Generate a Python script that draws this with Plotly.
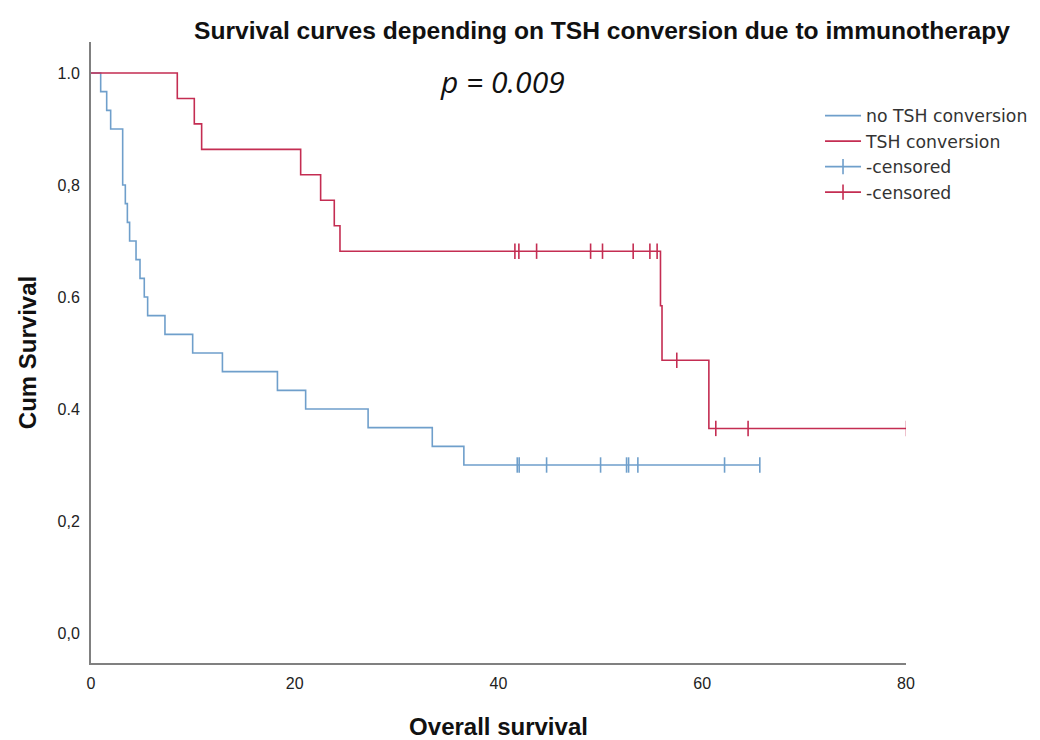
import plotly.graph_objects as go

# ---- data ----
blue_times = [0, 0.95, 1.54, 1.93, 3.11, 3.37, 3.57, 3.79, 4.42, 4.81, 5.23, 5.56, 7.26,
              9.98, 12.9, 18.3, 21.07, 27.2, 33.5, 36.6, 65.65]
blue_surv = [1.0, 0.9667, 0.9333, 0.9, 0.8, 0.7667, 0.7333, 0.7, 0.6667, 0.6333, 0.6,
             0.5667, 0.5333, 0.5, 0.4667, 0.4333, 0.4, 0.3667, 0.3333, 0.3, 0.3]
blue_cens_t = [41.84, 42.03, 44.72, 50.02, 52.57, 52.77, 53.68, 62.19, 65.65]
blue_cens_s = [0.3] * 9

red_times = [0, 8.47, 10.14, 10.86, 20.58, 22.54, 23.88, 24.44, 55.9, 56.05, 60.65, 80.05]
red_surv = [1.0, 0.9545, 0.9091, 0.8636, 0.8182, 0.7727, 0.7273, 0.6818, 0.5844, 0.487,
            0.3653, 0.3653]
red_cens_t = [41.61, 42.0, 43.74, 49.04, 50.21, 53.22, 54.86, 55.57, 57.5, 61.33, 64.5, 80.05]
red_cens_s = [0.6818] * 8 + [0.487] + [0.3653] * 3

y_ticks = [0.0, 0.2, 0.4, 0.6, 0.8, 1.0]
y_tick_labels = ["0,0", "0,2", "0.4", "0.6", "0,8", "1.0"]
x_ticks = [0, 20, 40, 60, 80]

BLUE = "#6f9fcb"
RED = "#c42d52"


def sep(xs, ys):
    ox, oy = [], []
    for a, b in zip(xs, ys):
        ox += [a, None]
        oy += [b, None]
    return ox, oy


fig = go.Figure()
fig.add_trace(go.Scatter(x=blue_times, y=blue_surv, mode="lines", line_shape="hv",
                         line=dict(color=BLUE, width=1.6), name="no TSH conversion"))
fig.add_trace(go.Scatter(x=red_times, y=red_surv, mode="lines", line_shape="hv",
                         line=dict(color=RED, width=1.6), name="TSH conversion"))
bx, by = sep(blue_cens_t, blue_cens_s)
fig.add_trace(go.Scatter(x=bx, y=by, mode="lines+markers", connectgaps=False,
                         line=dict(color=BLUE, width=1.6),
                         marker=dict(symbol="line-ns-open", size=11,
                                     line=dict(color=BLUE, width=1.6)),
                         name="-censored"))
rx, ry = sep(red_cens_t, red_cens_s)
fig.add_trace(go.Scatter(x=rx, y=ry, mode="lines+markers", connectgaps=False,
                         line=dict(color=RED, width=1.6),
                         marker=dict(symbol="line-ns-open", size=11,
                                     line=dict(color=RED, width=1.6)),
                         name="-censored"))

fig.update_layout(
    width=1040, height=740,
    margin=dict(l=91, r=134, t=42, b=77, autoexpand=False),
    paper_bgcolor="white", plot_bgcolor="white",
    font=dict(family="Liberation Sans, Arial, sans-serif", color="#333333"),
    title=dict(text="<b>Survival curves depending on TSH conversion due to immunotherapy</b>",
               x=602 / 1040, xanchor="center", y=1 - 30 / 740, yanchor="middle",
               font=dict(size=24.6, color="#111111")),
    showlegend=True,
    legend=dict(x=0.8945, xanchor="left", y=0.91, yanchor="top",
                font=dict(size=17.3, family="DejaVu Sans, sans-serif", color="#333333"),
                itemwidth=36, tracegroupgap=0, bgcolor="rgba(0,0,0,0)"),
    annotations=[dict(text="<i>p = 0.009</i>", x=0.5055, y=0.9356, xref="paper",
                      yref="paper", showarrow=False, xanchor="center", yanchor="middle",
                      font=dict(size=30, family="Open Sans, sans-serif", color="#111111"))],
)
fig.update_xaxes(range=[0, 80], tickvals=x_ticks, showgrid=False, zeroline=False,
                 showline=True, linecolor="#808080", linewidth=2, ticks="",
                 ticklabelstandoff=5,
                 tickfont=dict(size=16, color="#222222"),
                 title=dict(text="<b>Overall survival</b>", standoff=28,
                            font=dict(size=24, color="#111111")))
fig.update_yaxes(range=[-0.0536, 1.0554], tickvals=y_ticks, ticktext=y_tick_labels,
                 showgrid=False, zeroline=False, showline=True, linecolor="#808080",
                 linewidth=2, ticks="", ticklabelstandoff=6,
                 tickfont=dict(size=16, color="#222222"),
                 title=dict(text="<b>Cum Survival</b>", standoff=14,
                            font=dict(size=24, color="#111111")))

fig.write_html("out.html")
